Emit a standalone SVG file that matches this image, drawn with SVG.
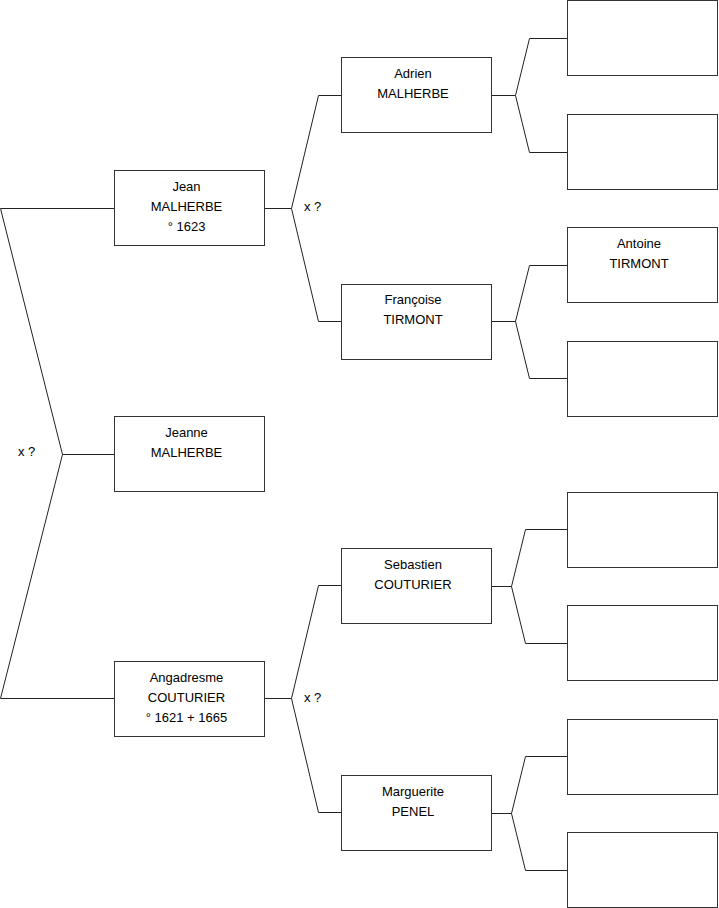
<svg xmlns="http://www.w3.org/2000/svg" width="719" height="908" viewBox="0 0 719 908">
<style>
.box{fill:#fff;stroke:#333;stroke-width:1}
.c{fill:none;stroke:#222;stroke-width:1}
text{font-family:"Liberation Sans",Arial,sans-serif;font-size:13px;fill:#000}
.t{text-anchor:middle}
</style>
<rect width="719" height="908" fill="#fff"/>
<g id="connectors">
<polyline class="c" points="114,208.5 0.5,208.5 62.5,454.5 0.5,698.5 114,698.5"/>
<polyline class="c" points="62.5,454.5 114,454.5"/>
<polyline class="c" points="265,208.5 291.5,208.5"/>
<polyline class="c" points="341,95.5 318.5,95.5 291.5,208.5 318.5,321.5 341,321.5"/>
<polyline class="c" points="265,698.5 291.5,698.5"/>
<polyline class="c" points="341,585.5 318.5,585.5 291.5,698.5 318.5,812.5 341,812.5"/>
<polyline class="c" points="492,95.5 515.5,95.5"/>
<polyline class="c" points="567,38.5 529.5,38.5 515.5,95.5 529.5,152.5 567,152.5"/>
<polyline class="c" points="492,321.5 515.5,321.5"/>
<polyline class="c" points="567,265.5 529.5,265.5 515.5,321.5 529.5,378.5 567,378.5"/>
<polyline class="c" points="492,586.5 511.5,586.5"/>
<polyline class="c" points="567,529.5 525.5,529.5 511.5,586.5 525.5,643.5 567,643.5"/>
<polyline class="c" points="492,813.5 511.5,813.5"/>
<polyline class="c" points="567,756.5 525.5,756.5 511.5,813.5 525.5,870.5 567,870.5"/>
<text x="18" y="456">x ?</text>
<text x="304" y="211">x ?</text>
<text x="304" y="702">x ?</text>
</g>
<g id="jean"><rect class="box" x="114.5" y="170.5" width="150" height="75"/>
<text class="t" x="186.5" y="190.5">Jean</text><text class="t" x="186.5" y="210.5">MALHERBE</text><text class="t" x="186.5" y="230.5">° 1623</text></g>
<g id="jeanne"><rect class="box" x="114.5" y="416.5" width="150" height="75"/>
<text class="t" x="186.5" y="437">Jeanne</text><text class="t" x="186.5" y="457">MALHERBE</text></g>
<g id="angadresme"><rect class="box" x="114.5" y="661.5" width="150" height="75"/>
<text class="t" x="186.5" y="682">Angadresme</text><text class="t" x="186.5" y="702">COUTURIER</text><text class="t" x="186.5" y="722">° 1621 + 1665</text></g>
<g id="adrien"><rect class="box" x="341.5" y="57.5" width="150" height="75"/>
<text class="t" x="413" y="78">Adrien</text><text class="t" x="413" y="98">MALHERBE</text></g>
<g id="francoise"><rect class="box" x="341.5" y="284.5" width="150" height="75"/>
<text class="t" x="413" y="304">Françoise</text><text class="t" x="413" y="324">TIRMONT</text></g>
<g id="sebastien"><rect class="box" x="341.5" y="548.5" width="150" height="75"/>
<text class="t" x="413" y="569">Sebastien</text><text class="t" x="413" y="589">COUTURIER</text></g>
<g id="marguerite"><rect class="box" x="341.5" y="775.5" width="150" height="75"/>
<text class="t" x="413" y="796">Marguerite</text><text class="t" x="413" y="816">PENEL</text></g>
<g id="p1"><rect class="box" x="567.5" y="0.5" width="150" height="75"/></g>
<g id="p2"><rect class="box" x="567.5" y="114.5" width="150" height="75"/></g>
<g id="antoine"><rect class="box" x="567.5" y="227.5" width="150" height="75"/>
<text class="t" x="639" y="248">Antoine</text><text class="t" x="639" y="268">TIRMONT</text></g>
<g id="p4"><rect class="box" x="567.5" y="341.5" width="150" height="75"/></g>
<g id="p5"><rect class="box" x="567.5" y="492.5" width="150" height="75"/></g>
<g id="p6"><rect class="box" x="567.5" y="605.5" width="150" height="75"/></g>
<g id="p7"><rect class="box" x="567.5" y="719.5" width="150" height="75"/></g>
<g id="p8"><rect class="box" x="567.5" y="832.5" width="150" height="75"/></g>
</svg>
